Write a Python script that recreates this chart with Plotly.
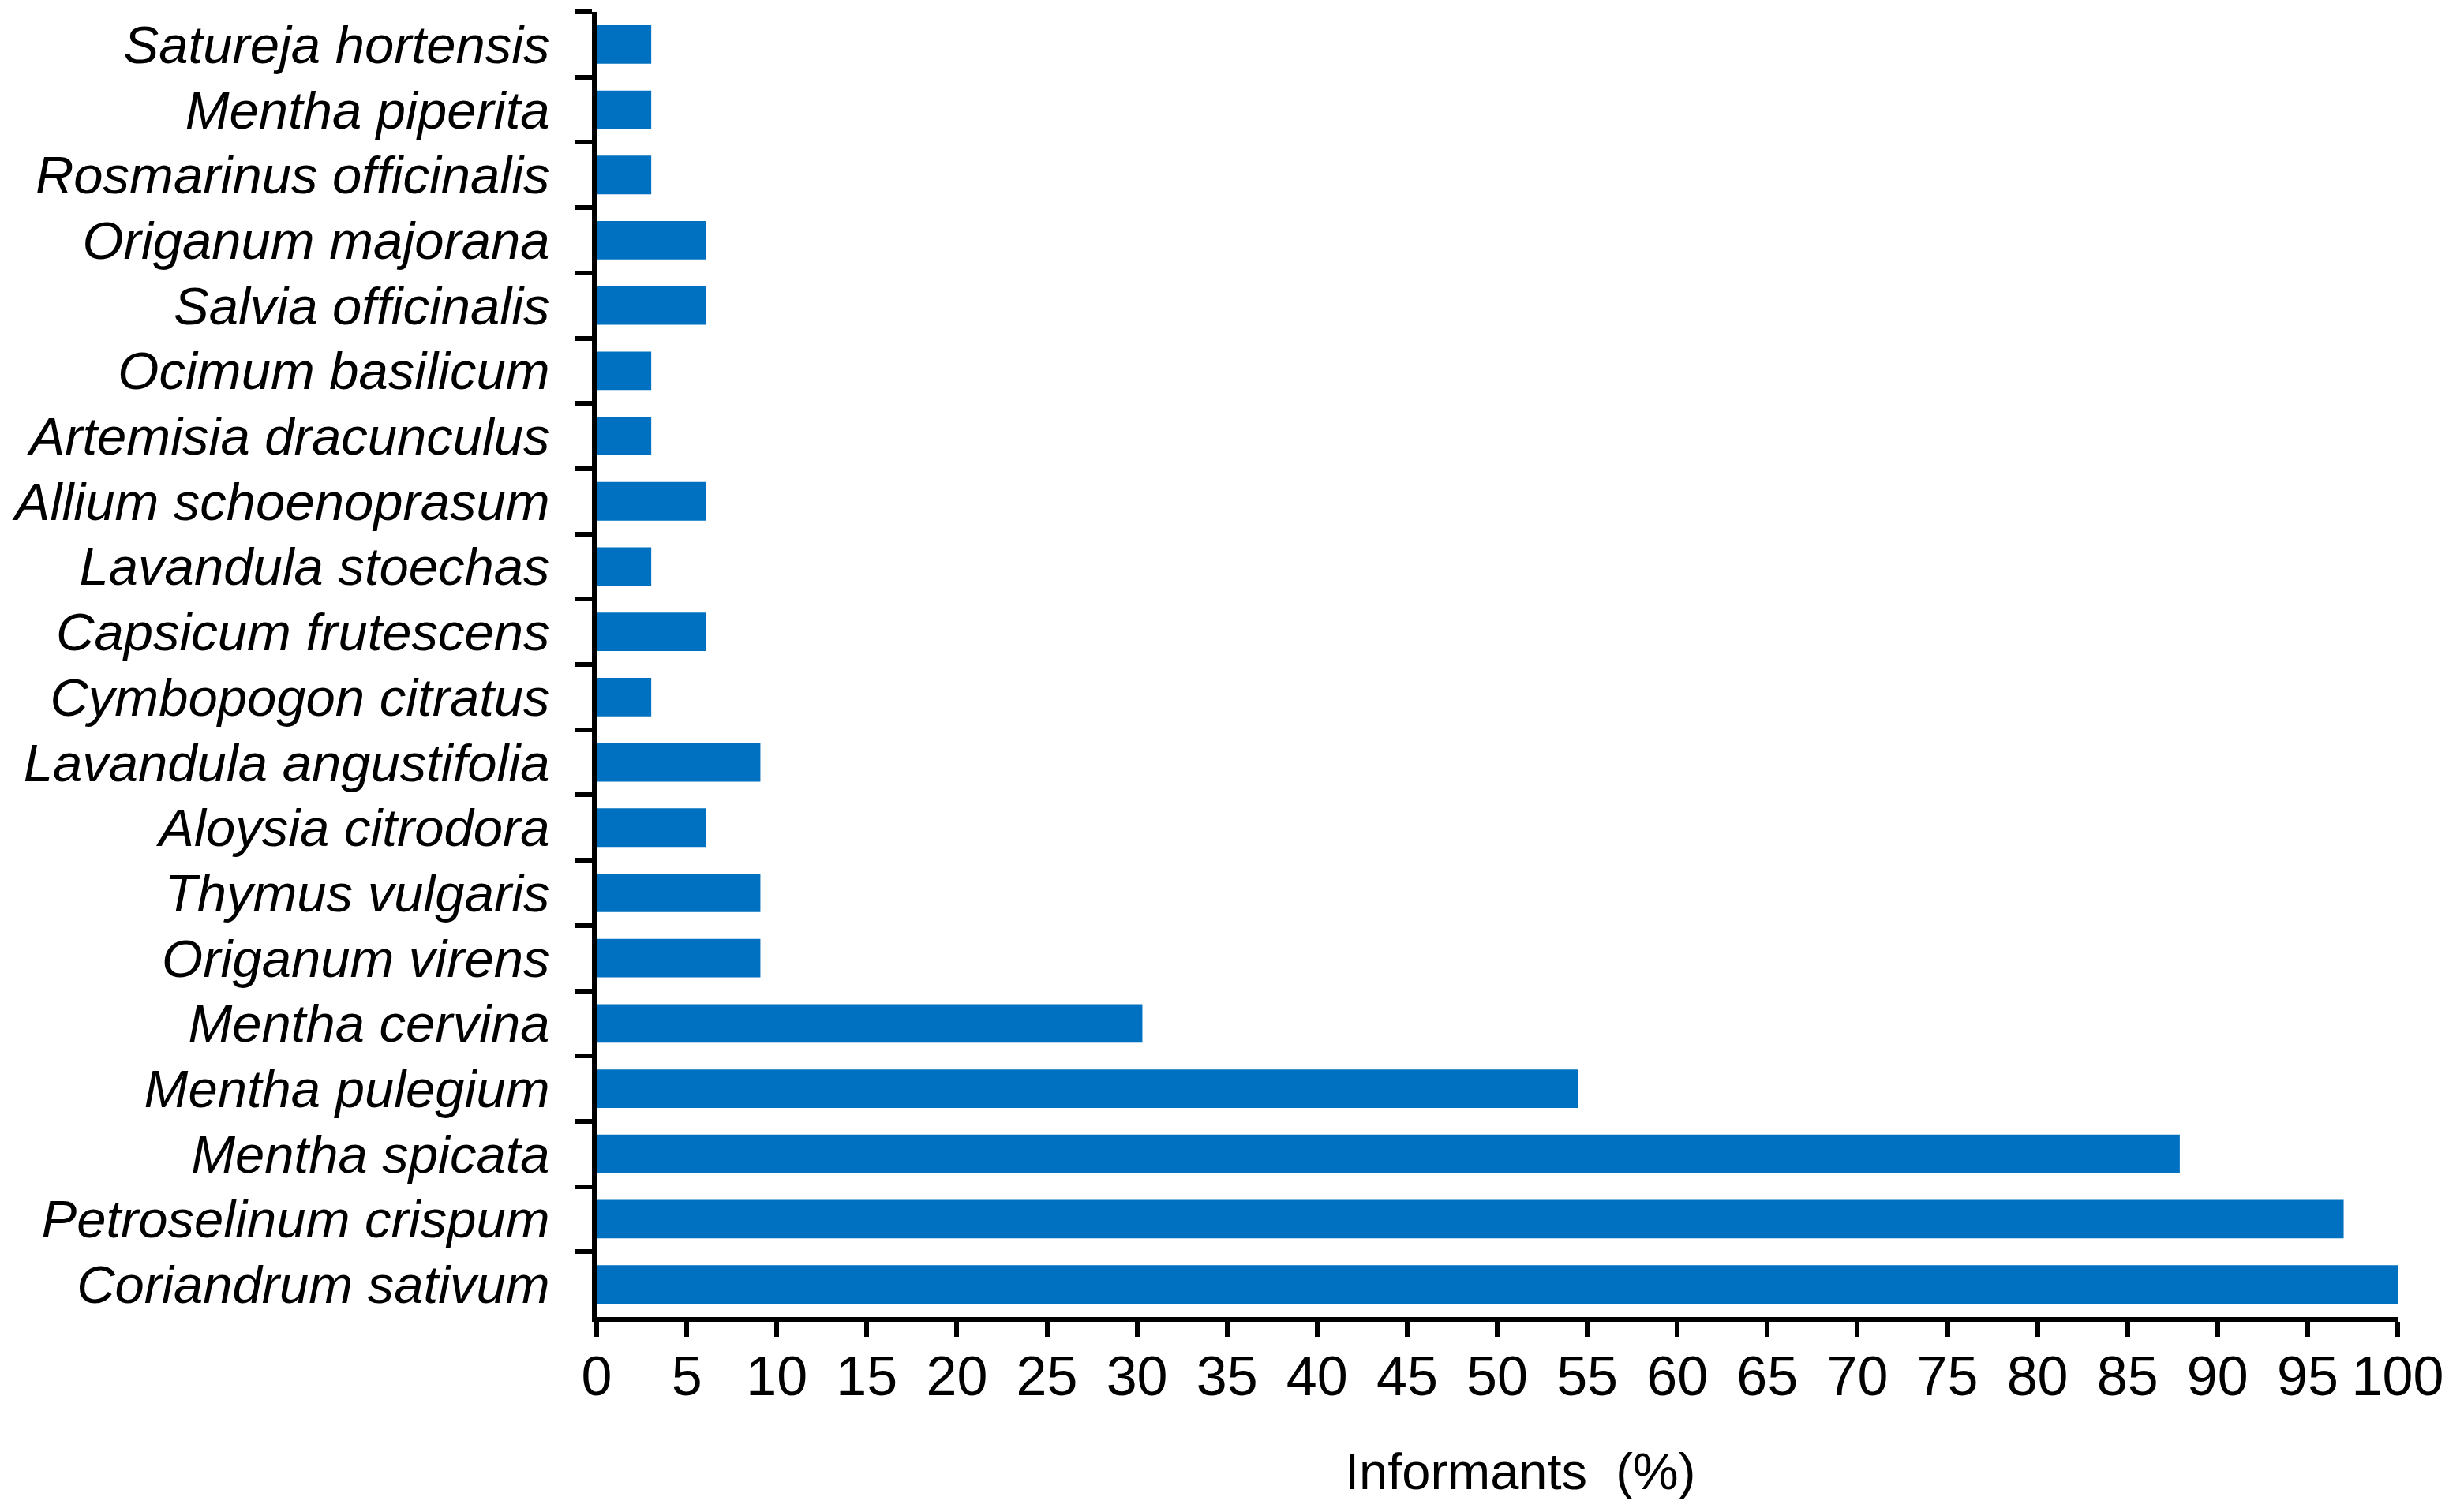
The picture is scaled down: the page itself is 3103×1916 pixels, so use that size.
import plotly.graph_objects as go

species = [
    "Satureja hortensis", "Mentha piperita", "Rosmarinus officinalis",
    "Origanum majorana", "Salvia officinalis", "Ocimum basilicum",
    "Artemisia dracunculus", "Allium schoenoprasum", "Lavandula stoechas",
    "Capsicum frutescens", "Cymbopogon citratus", "Lavandula angustifolia",
    "Aloysia citrodora", "Thymus vulgaris", "Origanum virens",
    "Mentha cervina", "Mentha pulegium", "Mentha spicata",
    "Petroselinum crispum", "Coriandrum sativum",
]
informants_pct = [
    3.03, 3.03, 3.03,
    6.06, 6.06, 3.03,
    3.03, 6.06, 3.03,
    6.06, 3.03, 9.09,
    6.06, 9.09, 9.09,
    30.3, 54.5, 87.9,
    97.0, 100.0,
]
x_title = "Informants\u00a0 (%)"

FONT = "Liberation Sans, Arial, sans-serif"

fig = go.Figure(
    go.Bar(
        x=informants_pct,
        y=species,
        orientation="h",
        marker=dict(color="#0070C0", line=dict(width=0)),
    )
)

fig.update_layout(
    width=3095,
    height=1908,
    margin=dict(l=736, r=65, t=7, b=247),
    paper_bgcolor="white",
    plot_bgcolor="white",
    bargap=0.41,
    showlegend=False,
    font=dict(family=FONT, color="#000000"),
)

fig.update_xaxes(
    range=[0, 100],
    tick0=0,
    dtick=5,
    ticks="outside",
    ticklen=19,
    tickwidth=6,
    tickcolor="#000000",
    showline=True,
    linecolor="#000000",
    linewidth=6,
    showgrid=False,
    zeroline=False,
    tickfont=dict(family=FONT, size=70, color="#000000"),
    ticklabelstandoff=-10,
)

fig.update_yaxes(
    autorange="reversed",
    type="category",
    tickson="boundaries",
    ticks="outside",
    ticklen=21,
    tickwidth=6,
    tickcolor="#000000",
    showline=True,
    linecolor="#000000",
    linewidth=6,
    showgrid=False,
    zeroline=False,
    tickfont=dict(family=FONT, size=67, color="#000000", style="italic"),
    ticklabelstandoff=40,
)

fig.add_annotation(
    text=x_title,
    xref="paper",
    yref="paper",
    x=0.5125,
    y=-0.118,
    xanchor="center",
    yanchor="middle",
    showarrow=False,
    font=dict(family=FONT, size=65, color="#000000"),
)

fig.write_html("out.html")
